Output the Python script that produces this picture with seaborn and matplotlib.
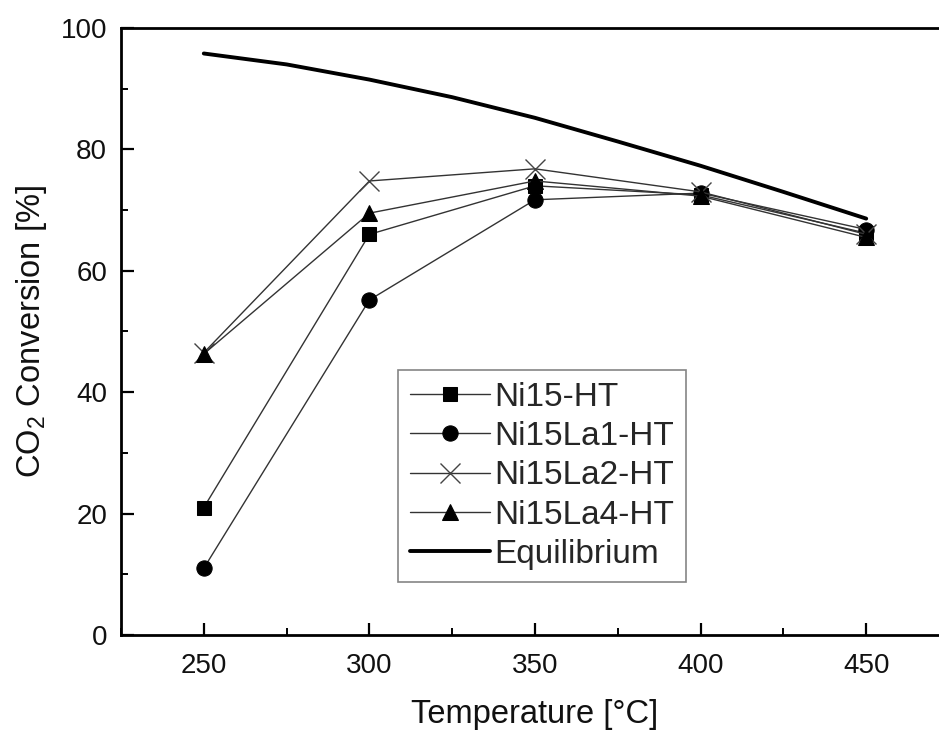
import matplotlib
matplotlib.use("Agg")
import matplotlib.pyplot as plt
import seaborn as sns
import pandas as pd
from matplotlib.ticker import MultipleLocator

sns.set_theme(style="white")
plt.rcParams['font.family'] = ['Liberation Sans', 'DejaVu Sans']
plt.rcParams['mathtext.fontset'] = 'custom'
plt.rcParams['mathtext.rm'] = 'Liberation Sans'

temperature = [250, 300, 350, 400, 450]
ni15_ht = [21.0, 66.0, 74.0, 72.5, 66.2]
ni15la1_ht = [11.0, 55.2, 71.7, 72.8, 66.8]
ni15la2_ht = [46.5, 74.8, 76.8, 73.0, 66.0]
ni15la4_ht = [46.3, 69.5, 74.8, 72.3, 65.5]

eq_temperature = [250, 275, 300, 325, 350, 375, 400, 425, 450]
equilibrium = [95.8, 94.0, 91.5, 88.6, 85.2, 81.3, 77.3, 73.0, 68.6]

series_names = ["Ni15-HT", "Ni15La1-HT", "Ni15La2-HT", "Ni15La4-HT"]
series_values = [ni15_ht, ni15la1_ht, ni15la2_ht, ni15la4_ht]
markers = ["s", "o", "x", "^"]

fig = plt.figure(figsize=(9.39, 7.34), dpi=100)
ax = fig.add_axes([121/939, (734-635)/734, 828/939, 607/734])

for name, vals, mk in zip(series_names, series_values, markers):
    df = pd.DataFrame({"T": temperature, "X": vals})
    if mk == "x":
        sns.lineplot(data=df, x="T", y="X", ax=ax, color="#333333", lw=1.0,
                     marker="x", markersize=14, markeredgewidth=1.0,
                     markeredgecolor="#444444", label=name)
    else:
        ms = 10 if mk == "s" else (11 if mk == "o" else 12)
        sns.lineplot(data=df, x="T", y="X", ax=ax, color="#333333", lw=1.0,
                     marker=mk, markersize=ms, markerfacecolor="black",
                     markeredgecolor="black", label=name)

df_eq = pd.DataFrame({"T": eq_temperature, "X": equilibrium})
sns.lineplot(data=df_eq, x="T", y="X", ax=ax, color="black", lw=2.8,
             label="Equilibrium")

ax.set_xlim(225, 475)
ax.set_ylim(0, 100)
ax.xaxis.set_major_locator(MultipleLocator(50))
ax.xaxis.set_minor_locator(MultipleLocator(25))
ax.yaxis.set_major_locator(MultipleLocator(20))
ax.yaxis.set_minor_locator(MultipleLocator(10))
ax.tick_params(axis="both", which="major", direction="in", length=9,
               width=1.6, labelsize=20, color="black", labelcolor="#111111",
               bottom=True, left=True, top=False, right=False)
ax.tick_params(axis="x", which="major", pad=13)
ax.tick_params(axis="y", which="major", pad=10)
ax.tick_params(axis="both", which="minor", direction="in", length=5,
               width=1.4, color="black", bottom=True, left=True, top=False, right=False)

for side in ["left", "bottom", "top", "right"]:
    ax.spines[side].set_visible(True)
    ax.spines[side].set_color("black")
    ax.spines[side].set_linewidth(2.0)

ax.set_xlabel("Temperature [°C]", fontsize=23.5, labelpad=14, color="#111111")
ax.set_ylabel(r"CO$_\mathregular{2}$ Conversion [%]", fontsize=23.5,
              labelpad=8, color="#111111")

leg = ax.legend(loc="upper left", bbox_to_anchor=((398-121)/828, (635-370)/607),
                fontsize=24, frameon=True, fancybox=False, edgecolor="#666666",
                handlelength=2.4, handletextpad=0.15, labelspacing=0.25,
                borderpad=0.35, borderaxespad=0)
leg.get_frame().set_linewidth(1.2)

fig.savefig("out.png", dpi=100, facecolor="white")
